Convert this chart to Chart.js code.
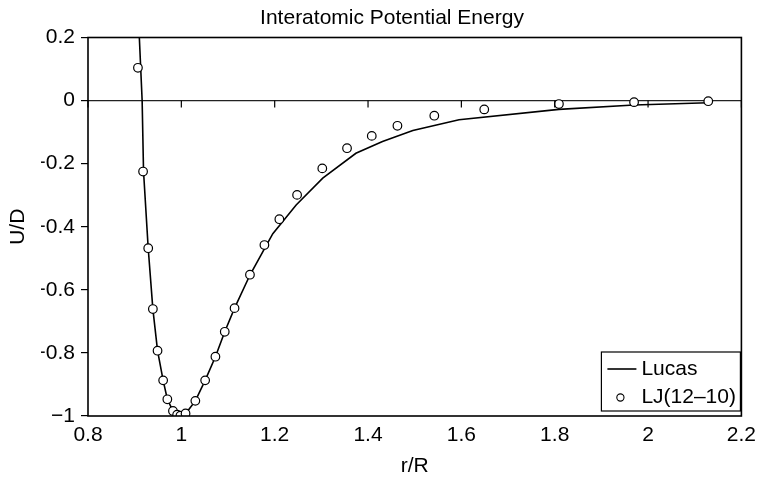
<!DOCTYPE html>
<html>
<head>
<meta charset="utf-8">
<script src="https://cdn.jsdelivr.net/npm/chart.js@4/dist/chart.umd.min.js"></script>
<style>
  html, body { margin: 0; padding: 0; background: #fff; }
  #wrap { width: 763px; height: 479px; position: relative; }
</style>
</head>
<body>
<div id="wrap"><canvas id="chart"></canvas></div>
<script>
const chartTitle = 'Interatomic Potential Energy';
const xTitle = 'r/R';
const yTitle = 'U/D';

// Lucas potential (solid line)
const lucasR = [0.910, 0.916, 0.919, 0.929, 0.939, 0.949, 0.961, 0.970, 0.982, 0.991,
  1.000, 1.009, 1.030, 1.051, 1.073, 1.093, 1.114, 1.147, 1.175, 1.196,
  1.246, 1.303, 1.374, 1.431, 1.496, 1.595, 1.809, 1.970, 2.129];
const lucasU = [0.200, 0.000, -0.225, -0.468, -0.661, -0.793, -0.887, -0.947, -0.984, -0.997,
  -1.000, -0.993, -0.952, -0.887, -0.812, -0.733, -0.658, -0.553, -0.478, -0.422,
  -0.331, -0.246, -0.167, -0.130, -0.095, -0.061, -0.028, -0.014, -0.007];

// LJ(12-10) potential (open circles)
const ljR = [0.907, 0.918, 0.929, 0.939, 0.949, 0.961, 0.970, 0.982, 0.991, 0.998,
  1.009, 1.030, 1.051, 1.073, 1.093, 1.114, 1.147, 1.178, 1.210, 1.248,
  1.302, 1.355, 1.408, 1.463, 1.542, 1.649, 1.809, 1.970, 2.129];
const ljU = [0.104, -0.225, -0.468, -0.661, -0.793, -0.887, -0.947, -0.984, -0.996, -0.999,
  -0.992, -0.952, -0.887, -0.812, -0.733, -0.658, -0.552, -0.458, -0.376, -0.299,
  -0.215, -0.151, -0.112, -0.080, -0.048, -0.028, -0.011, -0.005, -0.002];

const xRange = [0.8, 2.2];
const yRange = [-1, 0.2];
const tickStep = 0.2;

const toPts = (xs, ys) => xs.map((x, i) => ({ x, y: ys[i] }));
function fmt(v) {
  const r = Math.round(v * 10) / 10;
  const s = String(Math.abs(r));
  return r < 0 ? '\u2212' + s : s;
}

Chart.defaults.font.family = "'Liberation Sans', Arial, sans-serif";
Chart.defaults.font.size = 21;
Chart.defaults.color = '#000';

// frame, ticks on the zero line, and the boxed legend
const extras = {
  id: 'extras',
  afterDatasetsDraw(chart) {
    const { ctx, chartArea: ca, scales: { x, y } } = chart;
    const y0 = y.getPixelForValue(0);
    ctx.save();
    ctx.strokeStyle = '#000';
    ctx.lineWidth = 1.2;
    x.ticks.forEach(t => {
      const px = x.getPixelForValue(t.value);
      ctx.beginPath();
      ctx.moveTo(px, y0);
      ctx.lineTo(px, y0 + 7);
      ctx.stroke();
    });
    ctx.lineWidth = 1.6;
    ctx.strokeRect(ca.left, ca.top, ca.right - ca.left, ca.bottom - ca.top);

    // legend
    const ds = chart.data.datasets;
    const bw = 139, bh = 59;
    const bx = ca.right - 1 - bw, by = ca.bottom - 5 - bh;
    ctx.fillStyle = '#fff';
    ctx.fillRect(bx, by, bw, bh);
    ctx.lineWidth = 1.2;
    ctx.strokeRect(bx, by, bw, bh);
    ctx.font = "21px 'Liberation Sans', Arial, sans-serif";
    ctx.textBaseline = 'middle';
    ctx.fillStyle = '#000';
    const r1 = by + 17, r2 = by + 45.5;
    ctx.lineWidth = 1.6;
    ctx.beginPath();
    ctx.moveTo(bx + 6, r1);
    ctx.lineTo(bx + 35, r1);
    ctx.stroke();
    ctx.fillText(ds[0].label, bx + 40, r1);
    ctx.lineWidth = 1.1;
    ctx.beginPath();
    ctx.arc(bx + 19, r2, 3.6, 0, Math.PI * 2);
    ctx.fillStyle = '#fff';
    ctx.fill();
    ctx.stroke();
    ctx.fillStyle = '#000';
    ctx.fillText(ds[1].label, bx + 40, r2);
    ctx.restore();
  }
};

new Chart(document.getElementById('chart'), {
  type: 'scatter',
  data: {
    datasets: [
      {
        label: 'Lucas',
        data: toPts(lucasR, lucasU),
        showLine: true,
        borderColor: '#000',
        borderWidth: 1.6,
        pointRadius: 0,
        tension: 0,
        order: 1
      },
      {
        label: 'LJ(12\u201310)',
        data: toPts(ljR, ljU),
        showLine: false,
        pointRadius: 4.3,
        pointBorderWidth: 1.2,
        borderColor: '#000',
        backgroundColor: '#fff',
        order: 0
      }
    ]
  },
  options: {
    responsive: true,
    maintainAspectRatio: false,
    animation: false,
    layout: { padding: { left: 41, right: 20, top: 0, bottom: 0 } },
    plugins: {
      legend: { display: false },
      tooltip: { enabled: false },
      title: {
        display: true,
        text: chartTitle,
        font: { size: 21, weight: 'normal' },
        color: '#000',
        padding: { top: 6, bottom: 6.3 }
      }
    },
    scales: {
      x: {
        type: 'linear',
        min: xRange[0],
        max: xRange[1],
        afterFit: (s) => { s.height = 63; },
        grid: { display: false, drawTicks: false },
        border: { display: false },
        ticks: { stepSize: tickStep, padding: 7, maxRotation: 0, callback: fmt },
        title: { display: true, text: xTitle, font: { size: 21 }, padding: { top: 0, bottom: 0 } }
      },
      y: {
        type: 'linear',
        min: yRange[0],
        max: yRange[1],
        afterFit: (s) => { s.width = 47; },
        grid: {
          color: (c) => (c.tick && Math.abs(c.tick.value) < 1e-9 ? '#222' : 'rgba(0,0,0,0)'),
          lineWidth: 1.2,
          tickColor: '#000',
          tickLength: 7
        },
        border: { display: false },
        ticks: { stepSize: tickStep, padding: 6, callback: fmt },
        title: { display: true, text: yTitle, font: { size: 21 }, padding: { top: -35, bottom: 0 } }
      }
    }
  },
  plugins: [extras]
});
</script>
</body>
</html>
